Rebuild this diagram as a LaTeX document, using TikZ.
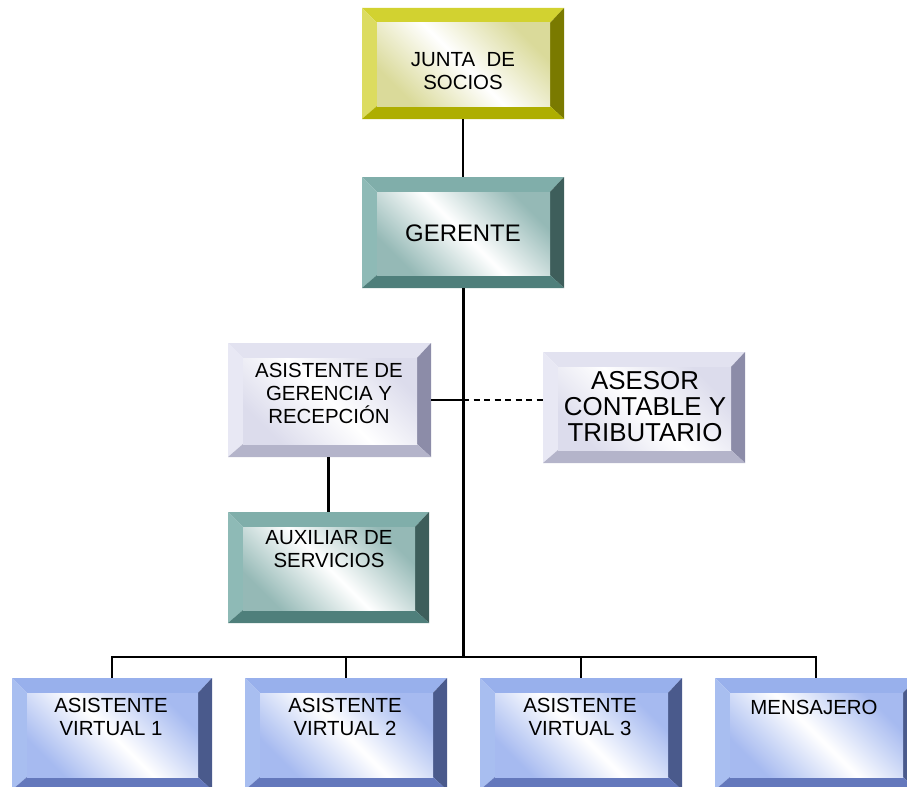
\documentclass[tikz,border=0pt]{standalone}
\usepackage{fontspec}
\setmainfont{Liberation Sans}
\usetikzlibrary{fit}
% colour schemes: top, left, right, bottom, face
\definecolor{ytop}{HTML}{D2D230}\definecolor{yleft}{HTML}{DCDC60}\definecolor{yright}{HTML}{7A7A00}\definecolor{ybot}{HTML}{AEAE00}\definecolor{yface}{HTML}{DADA9A}
\definecolor{ttop}{HTML}{80AEAA}\definecolor{tleft}{HTML}{8EBAB6}\definecolor{tright}{HTML}{3E5E5B}\definecolor{tbot}{HTML}{4F7F7B}\definecolor{tface}{HTML}{95B9B6}
\definecolor{ltop}{HTML}{E2E2F0}\definecolor{lleft}{HTML}{E8E8F4}\definecolor{lright}{HTML}{8C8CA8}\definecolor{lbot}{HTML}{B4B4CA}\definecolor{lface}{HTML}{DCDCEC}
\definecolor{btop}{HTML}{98B0EC}\definecolor{bleft}{HTML}{A8BEF0}\definecolor{bright}{HTML}{4A5A8C}\definecolor{bbot}{HTML}{6478BC}\definecolor{bface}{HTML}{A6BAF0}
\newcommand\bevelbox[6]{%
  \fill[#6top] (#2,#3) -- (#4,#3) -- (#4-14,#3+15) -- (#2+15,#3+15) -- cycle;
  \fill[#6left] (#2,#3) -- (#2+15,#3+15) -- (#2+15,#5-13) -- (#2,#5) -- cycle;
  \fill[#6right] (#4,#3) -- (#4,#5) -- (#4-14,#5-13) -- (#4-14,#3+15) -- cycle;
  \fill[#6bot] (#2,#5) -- (#4,#5) -- (#4-14,#5-13) -- (#2+15,#5-13) -- cycle;
  \shade[top color=#6face, bottom color=#6face, middle color=white, shading angle=-45]
    (#2+15,#3+15) rectangle (#4-14,#5-13);
  \node[fit={(#2,#3)(#4,#5)}, inner sep=0pt, draw=none] (#1) {};
}
\tikzset{
  txt/.style={font=\fontsize{20.5}{23.3}\selectfont, align=center, inner sep=0pt, anchor=north},
  thinline/.style={line width=1.3bp, draw=black},
  thickline/.style={line width=2.2bp, draw=black},
  trunkline/.style={line width=3bp, draw=black},
}
\begin{document}
\begin{tikzpicture}[x=1bp,y=-1bp]
\useasboundingbox (0,0) rectangle (907,787);
\clip (0,0) rectangle (907,787);
\bevelbox{junta}{362}{8}{564}{119}{y}
\bevelbox{gerente}{362}{177}{564}{288}{t}
\bevelbox{asist}{228}{343}{431}{457}{l}
\bevelbox{asesor}{543}{352}{745}{463}{l}
\bevelbox{aux}{228}{512}{429}{623}{t}
\bevelbox{va1}{12}{678}{212}{790}{b}
\bevelbox{va2}{245}{678}{447}{790}{b}
\bevelbox{va3}{480}{678}{682}{790}{b}
\bevelbox{mens}{715}{678}{917}{790}{b}

\node[txt] (juntat) at (463,52) {JUNTA~ DE\\SOCIOS};
\node[txt, font=\fontsize{24}{26}\selectfont, anchor=center] (gerentet) at (463,233.5) {GERENTE};
\node[txt] (asistt) at (329,363) {ASISTENTE DE\\GERENCIA Y\\RECEPCIÓN};
\node[txt, font=\fontsize{26}{26}\selectfont] (asesort) at (645,371) {ASESOR\\CONTABLE Y\\TRIBUTARIO};
\node[txt] (auxt) at (329,530) {AUXILIAR DE\\SERVICIOS};
\node[txt] (va1t) at (111,698) {ASISTENTE\\VIRTUAL 1};
\node[txt] (va2t) at (345,698) {ASISTENTE\\VIRTUAL 2};
\node[txt] (va3t) at (580,698) {ASISTENTE\\VIRTUAL 3};
\node[txt] (menst) at (814,700) {MENSAJERO};

\coordinate (bus) at (463,657);
\coordinate (mid) at (463,400);
\draw[thinline] (junta.south) -- (gerente.north);
\draw[trunkline] (gerente.south) -- (bus);
\draw[thickline] (asist.east |- mid) -- (mid);
\draw[thinline, dash pattern=on 6bp off 4.5bp] (mid) -- (asesor.west |- mid);
\draw[thickline] (asist.south -| aux.north) -- (aux.north);
\draw[thinline] (va1.north) |- (bus);
\draw[thinline] (va2.north) |- (bus);
\draw[thinline] (va3.north) |- (bus);
\draw[thinline] (mens.north) |- (bus);
\end{tikzpicture}
\end{document}
